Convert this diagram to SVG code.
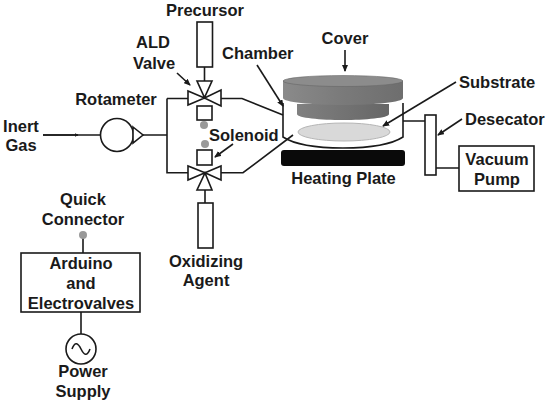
<svg xmlns="http://www.w3.org/2000/svg" width="550" height="405" viewBox="0 0 550 405">
<style>
text{font-family:"Liberation Sans",Arial,sans-serif;font-weight:bold;font-size:16.5px;fill:#1a1a1a}
.m{text-anchor:middle}
.s{fill:#fff;stroke:#1a1a1a;stroke-width:1.6}
.l{fill:none;stroke:#1a1a1a;stroke-width:1.6}
.d{fill:#999}
</style>
<defs>
<marker id="a" markerWidth="7" markerHeight="6" refX="6" refY="3" orient="auto" markerUnits="userSpaceOnUse"><path d="M0 0L7 3L0 6Z" fill="#1a1a1a"/></marker>
<marker id="b" markerWidth="4" markerHeight="4" refX="3.500" refY="2" orient="auto" markerUnits="userSpaceOnUse"><path d="M0 0L4 2L0 4Z" fill="#1a1a1a"/></marker>
<linearGradient id="g1" x1="0" x2="1" y1="0" y2="0"><stop offset="0" stop-color="#8a8a8a"/><stop offset=".5" stop-color="#7a7a7a"/><stop offset="1" stop-color="#6e6e6e"/></linearGradient>
<linearGradient id="g2" x1="0" x2="1" y1="0" y2="0"><stop offset="0" stop-color="#808080"/><stop offset="1" stop-color="#666"/></linearGradient>
</defs>
<rect width="550" height="405" fill="#fff"/>
<g id="connectors">
<path class="l" d="M43 135H100M143 135H167M167 98.500V172.700H188M167 98.500H188M221 98.500H242L283 115M221 172.700H243L293 135"/>
<path class="l" d="M204.500 67V81M205 190V203M403 121H425M436 168H459M83 235V253M81 312V334"/>
<path class="l" marker-end="url(#b)" d="M43 135H78"/>
<path class="l" marker-end="url(#a)" d="M177 73L190 85"/>
<path class="l" marker-end="url(#a)" d="M257 65L283 106"/>
<path class="l" marker-end="url(#a)" d="M233 144L215 157"/>
<path class="l" marker-end="url(#a)" d="M345 50V71"/>
<path class="l" marker-end="url(#a)" d="M456 82L383 126"/>
<path class="l" marker-end="url(#a)" d="M462 119L438 135"/>
</g>
<g id="chamber">
<path class="l" d="M283 103V137Q300 148 343 148T403 137V103"/>
<path fill="url(#g2)" d="M297 104H389V114C389 118 365 120 343 120S297 118 297 114Z"/>
<path fill="url(#g1)" d="M283 81H403V98C403 102 375 105 343 105S283 102 283 98Z"/>
<ellipse cx="343" cy="81" rx="60" ry="5.500" fill="#8c8c8c" stroke="#666" stroke-width=".6"/>
</g>
<g id="substrate"><ellipse cx="344" cy="132" rx="46" ry="9" fill="#d9d9d9" stroke="#b5b5b5"/></g>
<g id="heating-plate"><rect x="281" y="150" width="124" height="16" rx="3" fill="#0a0a0a"/><text class="m" x="343.500" y="184">Heating Plate</text></g>
<g id="precursor"><rect class="s" x="197" y="22" width="15.500" height="45"/><text class="m" x="205" y="16">Precursor</text></g>
<g id="ald-valve">
<path class="s" d="M197 81H212L204.500 97.500ZM188 91V105L204.500 98ZM221 90V106L204.500 98Z"/>
<rect class="s" x="197" y="106" width="15" height="14"/>
<circle class="d" cx="204" cy="125" r="4"/>
<text class="m" x="153" y="48">ALD</text><text class="m" x="154" y="69">Valve</text>
</g>
<g id="chamber-label"><text x="222" y="59">Chamber</text></g>
<g id="cover-label"><text class="m" x="345" y="44">Cover</text></g>
<g id="substrate-label"><text x="459" y="88">Substrate</text></g>
<g id="desecator"><rect class="s" x="425" y="115" width="11" height="60"/><text x="465" y="125">Desecator</text></g>
<g id="vacuum-pump"><rect class="s" x="459" y="146" width="75" height="45"/><text class="m" x="497" y="165">Vacuum</text><text class="m" x="497" y="185">Pump</text></g>
<g id="inert-gas"><text class="m" x="21" y="132">Inert</text><text class="m" x="21" y="151">Gas</text></g>
<g id="rotameter">
<circle class="s" cx="117" cy="135" r="16.500"/>
<path class="s" d="M133 127L143 135L133 143Z"/>
<text class="m" x="116" y="105">Rotameter</text>
</g>
<g id="solenoid-valve">
<circle class="d" cx="205" cy="144" r="4"/>
<rect class="s" x="197" y="150" width="15" height="15"/>
<path class="s" d="M188 166V180L205 172.700ZM221 166V180L205 172.700ZM197 190H212L205 173Z"/>
<text x="209" y="141">Solenoid</text>
</g>
<g id="oxidizing-agent"><rect class="s" x="198" y="203" width="15" height="45"/><text class="m" x="206" y="267">Oxidizing</text><text class="m" x="206" y="286">Agent</text></g>
<g id="quick-connector"><circle class="d" cx="83" cy="235" r="4"/><text class="m" x="83" y="205">Quick</text><text class="m" x="83" y="225">Connector</text></g>
<g id="arduino"><rect class="s" x="21" y="253" width="119" height="59"/><text class="m" x="81" y="269">Arduino</text><text class="m" x="81" y="289">and</text><text class="m" x="81" y="309">Electrovalves</text></g>
<g id="power-supply"><circle class="s" cx="81" cy="349" r="15"/><path class="l" d="M72 349C75 341 78 343 81 349S87 357 90 349"/><text class="m" x="83" y="377">Power</text><text class="m" x="83" y="397">Supply</text></g>
</svg>
